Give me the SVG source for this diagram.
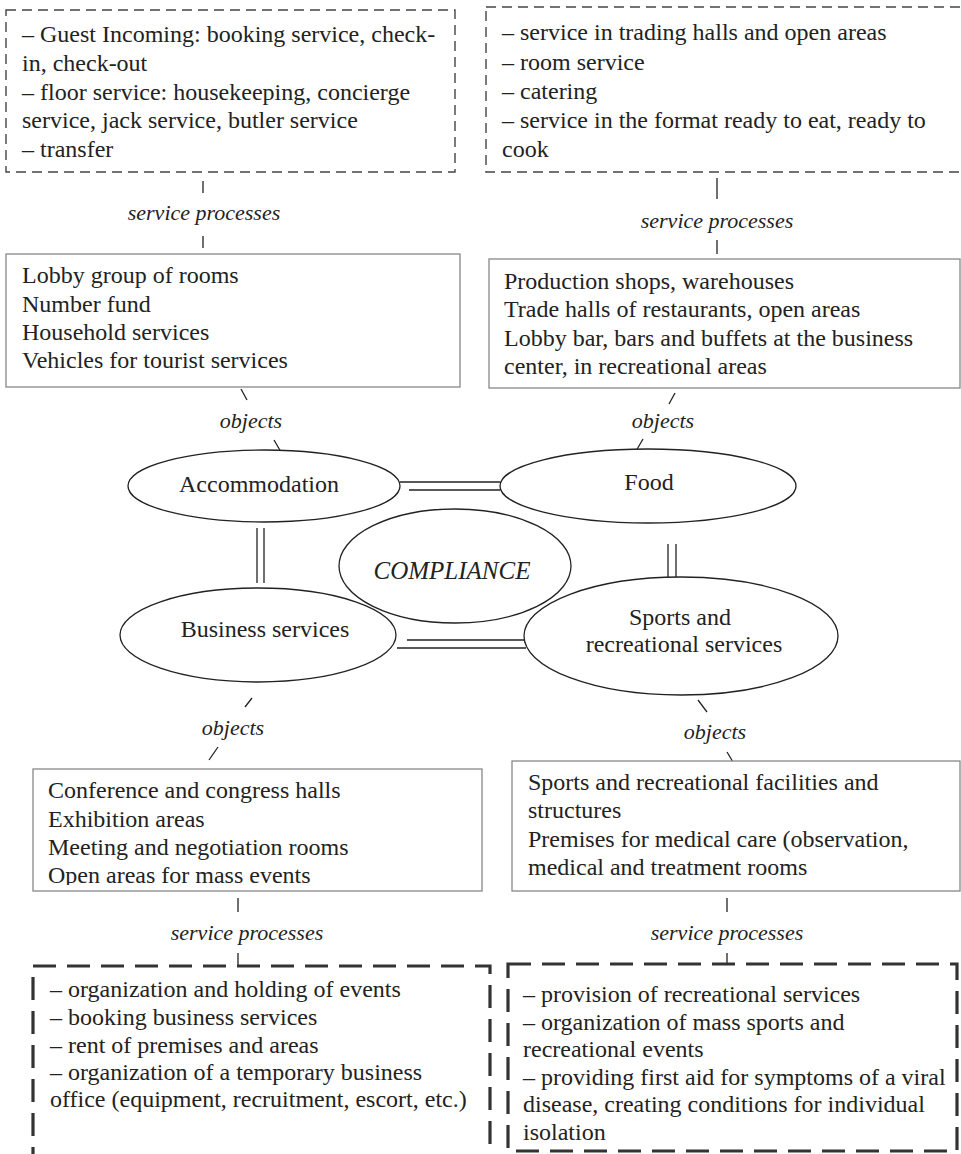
<svg xmlns="http://www.w3.org/2000/svg" width="961" height="1154" viewBox="0 0 961 1154">
<style>
text{font-family:"Liberation Serif","Times New Roman",serif;fill:#222}
.t{font-size:24px}
.lbl{font-size:22px;font-style:italic;text-anchor:middle}
.ell{font-size:24px;text-anchor:middle}
.dash1{fill:none;stroke:#444;stroke-width:1.4;stroke-dasharray:10 6}
.dash2{fill:none;stroke:#333;stroke-width:3.2;stroke-dasharray:23 11}
.box{fill:#fff;stroke:#888;stroke-width:1.3}
.el{fill:#fff;stroke:#222;stroke-width:1.3}
.ln{stroke:#222;stroke-width:1.3;fill:none}
</style>
<defs>
<clipPath id="clipConf"><rect x="33" y="769" width="449" height="116"/></clipPath>
</defs>
<rect width="961" height="1154" fill="#fff"/>

<g id="connectors">
<line class="ln" x1="203" y1="181" x2="203" y2="193"/>
<line class="ln" x1="203" y1="236" x2="203" y2="248"/>
<text class="lbl" x="204" y="220">service processes</text>
<line class="ln" x1="717" y1="178" x2="717" y2="199"/>
<line class="ln" x1="717" y1="240" x2="717" y2="254"/>
<text class="lbl" x="717" y="228">service processes</text>

<line class="ln" x1="241" y1="389" x2="247" y2="400"/>
<text class="lbl" x="251" y="428">objects</text>
<line class="ln" x1="274" y1="440" x2="281" y2="452"/>
<line class="ln" x1="675" y1="393" x2="669" y2="404"/>
<text class="lbl" x="663" y="428">objects</text>
<line class="ln" x1="643" y1="439" x2="636" y2="451"/>

<line class="ln" x1="400" y1="482" x2="500" y2="482"/>
<line class="ln" x1="409" y1="490" x2="500" y2="490"/>
<line class="ln" x1="257" y1="528" x2="257" y2="583"/>
<line class="ln" x1="264" y1="528" x2="264" y2="583"/>
<line class="ln" x1="668" y1="544" x2="668" y2="577"/>
<line class="ln" x1="676" y1="544" x2="676" y2="577"/>
<line class="ln" x1="407" y1="640" x2="526" y2="640"/>
<line class="ln" x1="397" y1="648" x2="526" y2="648"/>

<line class="ln" x1="252" y1="698" x2="245" y2="707"/>
<text class="lbl" x="233" y="735">objects</text>
<line class="ln" x1="218" y1="747" x2="209" y2="760"/>
<line class="ln" x1="698" y1="700" x2="707" y2="712"/>
<text class="lbl" x="715" y="739">objects</text>
<line class="ln" x1="727" y1="752" x2="733" y2="762"/>

<line class="ln" x1="238" y1="898" x2="238" y2="912"/>
<line class="ln" x1="238" y1="953" x2="238" y2="965"/>
<text class="lbl" x="247" y="940">service processes</text>
<line class="ln" x1="727" y1="898" x2="727" y2="912"/>
<line class="ln" x1="727" y1="953" x2="727" y2="964"/>
<text class="lbl" x="727" y="940">service processes</text>
</g>

<g id="acc-processes">
<rect class="dash1" x="6" y="10" width="449" height="162"/>
<text class="t" x="22" y="42">– Guest Incoming: booking service, check-</text>
<text class="t" x="22" y="71">in, check-out</text>
<text class="t" x="22" y="100">– floor service: housekeeping, concierge</text>
<text class="t" x="22" y="128">service, jack service, butler service</text>
<text class="t" x="22" y="157">– transfer</text>
</g>

<g id="food-processes">
<rect class="dash1" x="486" y="7" width="490" height="165"/>
<text class="t" x="502" y="40">– service in trading halls and open areas</text>
<text class="t" x="502" y="70">– room service</text>
<text class="t" x="502" y="99">– catering</text>
<text class="t" x="502" y="128">– service in the format ready to eat, ready to</text>
<text class="t" x="502" y="157">cook</text>
</g>

<g id="acc-objects">
<rect class="box" x="6" y="254" width="454" height="133"/>
<text class="t" x="22" y="283">Lobby group of rooms</text>
<text class="t" x="22" y="312">Number fund</text>
<text class="t" x="22" y="340">Household services</text>
<text class="t" x="22" y="368">Vehicles for tourist services</text>
</g>

<g id="food-objects">
<rect class="box" x="489" y="259" width="471" height="129"/>
<text class="t" x="504" y="289">Production shops, warehouses</text>
<text class="t" x="504" y="317">Trade halls of restaurants, open areas</text>
<text class="t" x="504" y="346">Lobby bar, bars and buffets at the business</text>
<text class="t" x="504" y="374">center, in recreational areas</text>
</g>

<g id="accommodation">
<ellipse class="el" cx="264" cy="486" rx="136" ry="36"/>
<text class="ell" x="259" y="492">Accommodation</text>
</g>

<g id="food">
<ellipse class="el" cx="648" cy="486" rx="148" ry="37"/>
<text class="ell" x="649" y="490">Food</text>
</g>

<g id="compliance">
<ellipse class="el" cx="455" cy="566" rx="116" ry="57"/>
<text class="ell" x="452" y="579" style="font-style:italic;font-size:25px">COMPLIANCE</text>
</g>

<g id="business">
<ellipse class="el" cx="258" cy="635" rx="138" ry="47"/>
<text class="ell" x="265" y="637">Business services</text>
</g>

<g id="sports">
<ellipse class="el" cx="681" cy="636" rx="157" ry="59"/>
<text class="ell" x="680" y="625">Sports and</text>
<text class="ell" x="684" y="652">recreational services</text>
</g>

<g id="business-objects">
<rect class="box" x="33" y="769" width="449" height="122"/>
<text class="t" x="48" y="798">Conference and congress halls</text>
<text class="t" x="48" y="827">Exhibition areas</text>
<text class="t" x="48" y="855">Meeting and negotiation rooms</text>
<text class="t" x="48" y="883" clip-path="url(#clipConf)">Open areas for mass events</text>
</g>

<g id="sports-objects">
<rect class="box" x="512" y="761" width="448" height="130"/>
<text class="t" x="528" y="790">Sports and recreational facilities and</text>
<text class="t" x="528" y="818">structures</text>
<text class="t" x="528" y="847">Premises for medical care (observation,</text>
<text class="t" x="528" y="875">medical and treatment rooms</text>
</g>

<g id="business-processes">
<path class="dash2" d="M33,1170 V966 H490 V1170"/>
<text class="t" x="50" y="997">– organization and holding of events</text>
<text class="t" x="50" y="1025">– booking business services</text>
<text class="t" x="50" y="1053">– rent of premises and areas</text>
<text class="t" x="50" y="1080">– organization of a temporary business</text>
<text class="t" x="50" y="1107">office (equipment, recruitment, escort, etc.)</text>
</g>

<g id="sports-processes">
<rect class="dash2" x="508" y="964" width="449" height="187"/>
<text class="t" x="523" y="1002">– provision of recreational services</text>
<text class="t" x="523" y="1030">– organization of mass sports and</text>
<text class="t" x="523" y="1057">recreational events</text>
<text class="t" x="523" y="1085">– providing first aid for symptoms of a viral</text>
<text class="t" x="523" y="1112">disease, creating conditions for individual</text>
<text class="t" x="523" y="1140">isolation</text>
</g>
</svg>
